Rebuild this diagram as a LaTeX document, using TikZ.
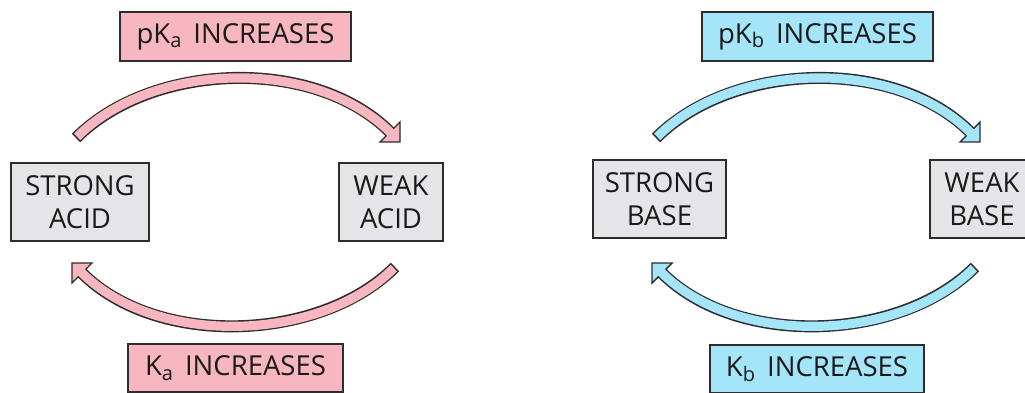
\documentclass[tikz,border=0pt]{standalone}
\usepackage{fontspec}
\setmainfont{Open Sans}
\definecolor{pinkfill}{RGB}{248,182,192}
\definecolor{bluefill}{RGB}{164,229,249}
\definecolor{greyfill}{RGB}{229,229,231}
\definecolor{outl}{RGB}{45,45,45}
\definecolor{txt}{RGB}{25,25,25}
\newcommand{\subsc}[1]{\raisebox{-4.5pt}{\fontsize{20}{20}\selectfont #1}}
\tikzset{
  box/.style={draw=outl, line width=1.4pt, inner sep=0pt, align=center, text=txt,
    font=\fontsize{27.5}{33}\selectfont},
  statebox/.style={box, fill=greyfill},
  pinklabel/.style={box, fill=pinkfill},
  bluelabel/.style={box, fill=bluefill},
}
\newcommand{\blockarrow}[8]{%
  \draw[line width=12pt, outl] (#1) .. controls (#2) and (#3) .. (#4);
  \filldraw[fill=#8, draw=outl, line width=1.4pt, line join=miter] (#5) -- (#6) -- (#7) -- cycle;
  \draw[line width=9.2pt, #8, shorten <=1.6pt, shorten >=-1.2pt] (#1) .. controls (#2) and (#3) .. (#4);
}
\begin{document}
\begin{tikzpicture}[x=1pt,y=-1pt]
\useasboundingbox (0,0) rectangle (1025,393);
\clip (0,0) rectangle (1025,393);
\fill[white] (0,0) rectangle (1025,393);

% ---- acid side ----
\node[statebox, minimum width=138pt, minimum height=78pt] (sa) at (80,202) {STRONG\\ACID};
\node[statebox, minimum width=104pt, minimum height=78pt] (wa) at (391,202) {WEAK\\ACID};
\node[pinklabel, minimum width=231pt, minimum height=49pt] (pka) at (235.5,36.5) {pK\subsc{a}\hspace{12pt}INCREASES};
\node[pinklabel, minimum width=215pt, minimum height=48pt] (ka) at (235.5,368) {K\subsc{a}\hspace{12pt}INCREASES};

\coordinate (at1) at (76,138); \coordinate (ac1) at (152,62); \coordinate (ac2) at (314,56);
\coordinate (ab1) at (390,132); \coordinate (atip1) at (400,142); \coordinate (ak11) at (380,142); \coordinate (ak12) at (400,122);
\blockarrow{at1}{ac1}{ac2}{ab1}{atip1}{ak11}{ak12}{pinkfill}

\coordinate (at2) at (395,267); \coordinate (ad1) at (320,342); \coordinate (ad2) at (157,348);
\coordinate (ab2) at (82,273); \coordinate (atip2) at (72,263); \coordinate (ak21) at (92,263); \coordinate (ak22) at (72,283);
\blockarrow{at2}{ad1}{ad2}{ab2}{atip2}{ak21}{ak22}{pinkfill}

% ---- base side ----
\node[statebox, minimum width=133pt, minimum height=78pt] (sb) at (659.5,199) {STRONG\\BASE};
\node[statebox, minimum width=104pt, minimum height=78pt] (wb) at (982,199) {WEAK\\BASE};
\node[bluelabel, minimum width=231pt, minimum height=49pt] (pkb) at (817.5,36.5) {pK\subsc{b}\hspace{12pt}INCREASES};
\node[bluelabel, minimum width=214pt, minimum height=48pt] (kb) at (817,369) {K\subsc{b}\hspace{12pt}INCREASES};

\coordinate (bt1) at (656,138); \coordinate (bc1) at (732,62); \coordinate (bc2) at (894,56);
\coordinate (bb1) at (970,132); \coordinate (btip1) at (980,142); \coordinate (bk11) at (960,142); \coordinate (bk12) at (980,122);
\blockarrow{bt1}{bc1}{bc2}{bb1}{btip1}{bk11}{bk12}{bluefill}

\coordinate (bt2) at (975,267); \coordinate (bd1) at (900,342); \coordinate (bd2) at (737,348);
\coordinate (bb2) at (662,273); \coordinate (btip2) at (652,263); \coordinate (bk21) at (672,263); \coordinate (bk22) at (652,283);
\blockarrow{bt2}{bd1}{bd2}{bb2}{btip2}{bk21}{bk22}{bluefill}
\end{tikzpicture}
\end{document}
